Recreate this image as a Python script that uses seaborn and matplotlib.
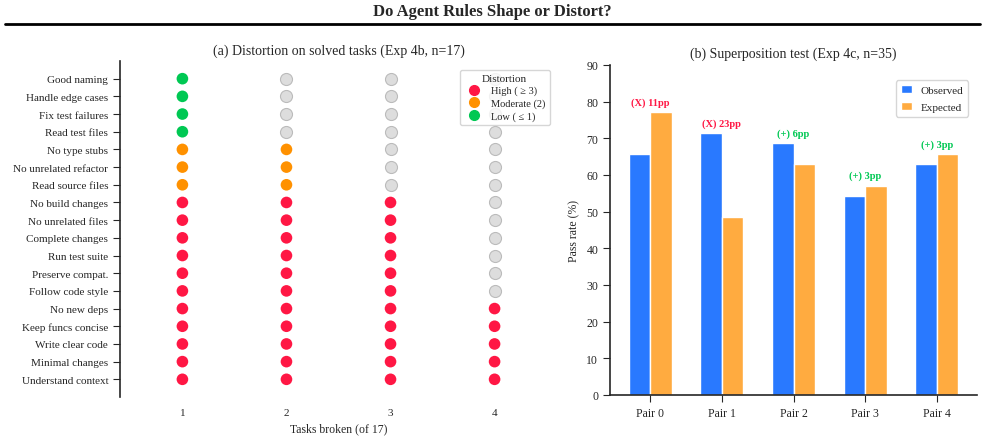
import pandas as pd
import seaborn as sns
import matplotlib.pyplot as plt
from matplotlib.lines import Line2D

# ---- data ----
rules = ['Good naming', 'Handle edge cases', 'Fix test failures', 'Read test files',
         'No type stubs', 'No unrelated refactor', 'Read source files',
         'No build changes', 'No unrelated files', 'Complete changes', 'Run test suite',
         'Preserve compat.', 'Follow code style', 'No new deps', 'Keep funcs concise',
         'Write clear code', 'Minimal changes', 'Understand context']
tasks_broken = [1, 1, 1, 1, 2, 2, 2, 3, 3, 3, 3, 3, 3, 4, 4, 4, 4, 4]
task_cols = [1, 2, 3, 4]

pairs = ['Pair 0', 'Pair 1', 'Pair 2', 'Pair 3', 'Pair 4']
observed = [65.7, 71.4, 68.6, 54.3, 62.9]
expected = [77.1, 48.6, 62.9, 57.1, 65.7]
verdicts = ['(X) 11pp', '(X) 23pp', '(+) 6pp', '(+) 3pp', '(+) 3pp']
verdict_ok = [False, False, True, True, True]

RED, ORANGE, GREEN = '#FF1744', '#FF9100', '#00C853'
BLUE, LORANGE = '#2979FF', '#FFAB40'

sns.set_style('ticks')
plt.rcParams['font.family'] = ['Liberation Serif', 'DejaVu Serif']
plt.rcParams['font.size'] = 8
plt.rcParams['xtick.major.size'] = 5
plt.rcParams['ytick.major.size'] = 5

fig = plt.figure(figsize=(9.85, 4.39), dpi=100)
fig.suptitle('Do Agent Rules Shape or Distort?', fontsize=12, fontweight='bold', y=0.99)
fig.add_artist(Line2D([0.005, 0.995], [0.943, 0.943], color='black', lw=2, transform=fig.transFigure))

# ---- (a) dot grid ----
def level_color(n):
    if n >= 3:
        return RED
    if n == 2:
        return ORANGE
    return GREEN

ax1 = fig.add_axes([0.1218, 0.0934, 0.4437, 0.7654])
cells = pd.DataFrame([(i, c, c <= n) for i, n in enumerate(tasks_broken) for c in task_cols],
                     columns=['y', 'col', 'hit'])
cells['color'] = [level_color(tasks_broken[y]) for y in cells['y']]
empty = cells[~cells['hit']]
hits = cells[cells['hit']]
sns.scatterplot(data=empty, x='col', y='y', ax=ax1, s=75, color='#DDDDDD',
                edgecolor='#BBBBBB', linewidth=0.8, legend=False, zorder=2)
sns.scatterplot(data=hits, x='col', y='y', ax=ax1, s=70, c=hits['color'],
                linewidth=0, legend=False, zorder=3)

ax1.set_xlim(0.4, 4.6)
ax1.set_ylim(len(rules), -1)
ax1.set_yticks(range(len(rules)))
ax1.set_yticklabels(rules)
ax1.set_xticks(task_cols)
ax1.tick_params(axis='x', length=0, pad=8)
ax1.set_xlabel('Tasks broken (of 17)', fontsize=8.5)
ax1.set_ylabel('')
ax1.set_title('(a) Distortion on solved tasks (Exp 4b, n=17)', fontsize=10, pad=5)
sns.despine(ax=ax1, bottom=True)
ax1.spines['left'].set_linewidth(1.2)

handles = [Line2D([], [], marker='o', ls='', color=RED, markersize=7, label='High ( ≥ 3)'),
           Line2D([], [], marker='o', ls='', color=ORANGE, markersize=7, label='Moderate (2)'),
           Line2D([], [], marker='o', ls='', color=GREEN, markersize=7, label='Low ( ≤ 1)')]
leg = ax1.legend(handles=handles, title='Distortion', loc='upper right', fontsize=7.5,
                 title_fontsize=8, frameon=True, handletextpad=0.6, labelspacing=0.3,
                 bbox_to_anchor=(0.995, 0.99))
leg.get_frame().set_edgecolor('#CCCCCC')

# ---- (b) superposition bars ----
ax2 = fig.add_axes([0.6193, 0.098, 0.3726, 0.7517])
bars = pd.DataFrame({'pair': pairs * 2,
                     'rate': observed + expected,
                     'kind': ['Observed'] * len(pairs) + ['Expected'] * len(pairs)})
sns.barplot(data=bars, x='pair', y='rate', hue='kind', palette=[BLUE, LORANGE],
            saturation=1, width=0.6, edgecolor='white', linewidth=1, ax=ax2)
for i, (txt, ok) in enumerate(zip(verdicts, verdict_ok)):
    top = max(observed[i], expected[i])
    ax2.text(i, top + 1.5, txt, ha='center', va='bottom', fontsize=7.5, fontweight='bold',
             color=GREEN if ok else RED)
ax2.set_xlim(-0.56, 4.56)
ax2.set_ylim(0, 90)
ax2.set_yticks(range(0, 91, 10))
ax2.tick_params(labelsize=8.5)
ax2.set_xlabel('')
ax2.set_ylabel('Pass rate (%)', fontsize=8.5)
ax2.set_title('(b) Superposition test (Exp 4c, n=35)', fontsize=10, pad=6)
sns.despine(ax=ax2)
for s in ['left', 'bottom']:
    ax2.spines[s].set_linewidth(1.2)
leg2 = ax2.legend(loc='upper right', fontsize=8, frameon=True, title=None,
                  labelspacing=0.7, handlelength=1.0, bbox_to_anchor=(0.99, 0.97))
leg2.get_frame().set_edgecolor('#CCCCCC')

fig.savefig('out.png', dpi=100)
